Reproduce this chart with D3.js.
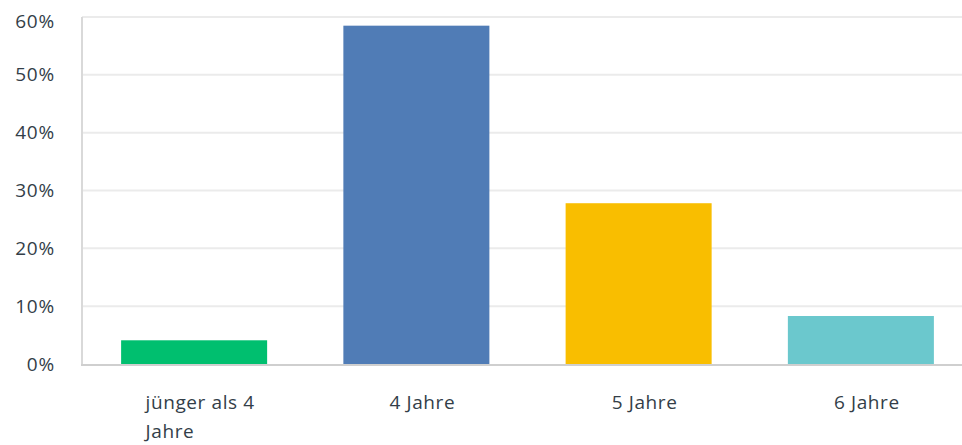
<!DOCTYPE html>
<html>
<head>
<meta charset="utf-8">
<script src="https://cdn.jsdelivr.net/npm/d3@7"></script>
<style>
  body { margin: 0; background: #fff; }
  svg { display: block; font-family: "Open Sans", Roboto, sans-serif; }
</style>
</head>
<body>
<div id="chart"></div>
<script>
// chart data
const categories = [['jünger als 4', 'Jahre'], ['4 Jahre'], ['5 Jahre'], ['6 Jahre']]
const values = [4.1, 58.5, 27.8, 8.3]
const colors = ['#00bf6f', '#507cb6', '#f9be00', '#6bc8cd']
const yTicks = [0, 10, 20, 30, 40, 50, 60]

const width = 962
const height = 445

const svg = d3.select('#chart')
  .append('svg')
  .attr('width', width)
  .attr('height', height)

const x = d3.scaleBand()
  .domain(d3.range(categories.length))
  .range([83, 972])
  .paddingInner(0.343)
  .paddingOuter(0.1715)

const y = d3.scaleLinear()
  .domain([0, 60])
  .range([364, 17])

// gridlines
svg.append('g')
  .selectAll('line')
  .data(yTicks.slice(1))
  .enter()
  .append('line')
  .attr('x1', 82)
  .attr('x2', width)
  .attr('y1', d => y(d))
  .attr('y2', d => y(d))
  .style('stroke', '#ebebeb')
  .style('stroke-width', 2)

// bars
svg.append('g')
  .selectAll('rect')
  .data(values)
  .enter()
  .append('rect')
  .attr('x', (d, i) => x(i))
  .attr('width', x.bandwidth())
  .attr('y', d => y(d))
  .attr('height', d => y(0) - y(d))
  .style('fill', (d, i) => colors[i])

// axis lines
svg.append('line')
  .attr('x1', 82).attr('x2', 82)
  .attr('y1', y(60)).attr('y2', y(0))
  .style('stroke', '#d9d9d9')
  .style('stroke-width', 2)
svg.append('line')
  .attr('x1', 81).attr('x2', width)
  .attr('y1', y(0) + 1).attr('y2', y(0) + 1)
  .style('stroke', '#cfcfcf')
  .style('stroke-width', 2)

// y labels
svg.append('g')
  .selectAll('text')
  .data(yTicks)
  .enter()
  .append('text')
  .attr('x', 55)
  .attr('y', d => Math.max(y(d), 21))
  .attr('dy', '0.35em')
  .attr('text-anchor', 'end')
  .style('font-size', '19px')
  .style('letter-spacing', '0.8px')
  .style('fill', '#333e48')
  .text(d => d + '%')

// x labels (first line centred, following lines left-aligned to it)
const xl = svg.append('g')
  .selectAll('text')
  .data(categories)
  .enter()
  .append('text')
  .style('font-size', '19px')
  .style('letter-spacing', '0.6px')
  .style('fill', '#333e48')

xl.each(function (lines, i) {
  const t = d3.select(this)
  lines.forEach((s, j) => {
    t.append('tspan').attr('y', 409 + j * 29).text(s)
  })
  const w = this.firstChild.getComputedTextLength()
  const cx = x(i) + x.bandwidth() / 2 + 6
  t.selectAll('tspan').attr('x', cx - w / 2)
})
</script>
</body>
</html>
